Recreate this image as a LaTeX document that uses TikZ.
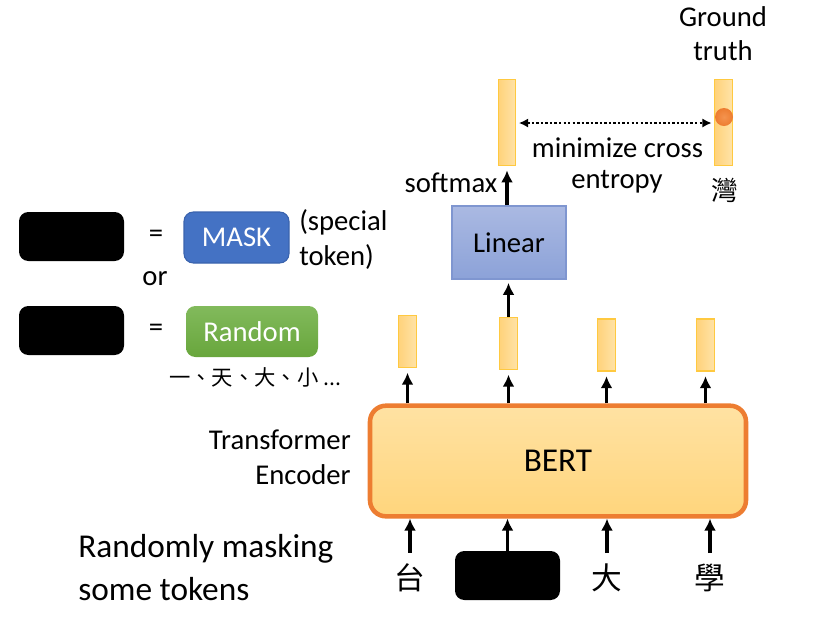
\documentclass[tikz,border=0pt]{standalone}
\usepackage{fontspec}
\setmainfont{Carlito}
\newfontfamily\cjk{Noto Sans CJK TC}
\usetikzlibrary{arrows.meta}

\definecolor{bertline}{HTML}{ED7D31}
\definecolor{berttop}{HTML}{FFE2A3}
\definecolor{bertbot}{HTML}{FFD57C}
\definecolor{barleft}{HTML}{FFD27A}
\definecolor{barright}{HTML}{FFE3A8}
\definecolor{barline}{HTML}{FFC940}
\definecolor{lintop}{HTML}{AAB9E2}
\definecolor{linbot}{HTML}{8CA2D8}
\definecolor{linline}{HTML}{7F96D0}
\definecolor{maskfill}{HTML}{4472C4}
\definecolor{maskline}{HTML}{3A63AD}
\definecolor{randtop}{HTML}{82BA5C}
\definecolor{randbot}{HTML}{68A63C}
\definecolor{dotlight}{HTML}{F4934E}

\begin{document}
\begin{tikzpicture}[x=0.75pt,y=-0.75pt,
  txt/.style={font=\fontsize{21.5}{25}\selectfont, inner sep=0pt},
  tok/.style={font=\cjk\fontsize{23}{27}\selectfont, inner sep=0pt},
  arr/.style={-{Latex[length=9pt,width=9pt]}, line width=2.4pt},
  vec/.style={draw=barline, line width=0.8pt, left color=barleft, right color=barright,
    minimum width=14pt, minimum height=39pt, inner sep=0pt},
  hidden/.style={fill=black, rounded corners=7pt, minimum width=78.75pt,
    minimum height=36.75pt, inner sep=0pt}]
\useasboundingbox (0,0) rectangle (813,619);

% encoder
\node[draw=bertline, line width=3.4pt, rounded corners=12pt, top color=berttop,
  bottom color=bertbot, minimum width=282pt, minimum height=83pt,
  font=\fontsize{25}{30}\selectfont] (bert) at (558,461) {BERT};
\node[txt, anchor=east] (tr) at (351,440) {Transformer};
\node[txt, anchor=east] (enc) at (351,475) {Encoder};

% output vectors
\node[vec] (bar1) at (407.5,341.5) {};
\node[vec] (bar2) at (508.5,343.5) {};
\node[vec] (bar3) at (606.5,345) {};
\node[vec] (bar4) at (705.5,345) {};
\foreach \i in {1,...,4}
  \draw[arr, shorten >=3.5pt] (bar\i |- bert.north) -- (bar\i.south);

% input tokens
\node[tok] (tok1) at (410,578) {台};
\node[hidden] (tok2) at (507.5,575.5) {};
\node[tok] (tok3) at (607,578) {大};
\node[tok] (tok4) at (710,578) {學};
\draw[arr, shorten <=8pt] (tok1.north) -- (tok1.north |- bert.south);
\draw[arr] (tok2.north) -- (tok2.north |- bert.south);
\draw[arr, shorten <=8pt] (tok3.north) -- (tok3.north |- bert.south);
\draw[arr, shorten <=8pt] (tok4.north) -- (tok4.north |- bert.south);

% linear + softmax
\node[draw=linline, line width=0.8pt, top color=lintop, bottom color=linbot,
  minimum width=85.5pt, minimum height=54.75pt, txt, inner sep=0pt] (linear) at (509,242.5) {Linear};
\draw[arr, shorten >=2.5pt] (bar2.north) -- (bar2.north |- linear.south);
\node[vec, minimum width=13pt, minimum height=65pt] (probs) at (507,122.5) {};
\draw[arr, shorten >=3pt] (linear.north -| probs) -- (probs.south);
\node[txt] (softmax) at (451,183) {softmax};

% ground truth
\node[vec, minimum width=13pt, minimum height=65pt] (truth) at (723.5,122.5) {};
\shade[inner color=dotlight, outer color=bertline] (724,117) circle (6.75pt);
\node[txt] (gt1) at (723,17) {Ground};
\node[txt] (gt2) at (723,51) {truth};
\node[tok, font=\cjk\fontsize{20}{24}\selectfont] (wan) at (725,190) {灣};
\coordinate (ce1) at (probs.east |- 0,123);
\coordinate (ce2) at (truth.west |- 0,123);
\draw[{Latex[length=7pt,width=7pt]}-{Latex[length=7pt,width=7pt]}, line width=2pt,
  dash pattern=on 1.8pt off 1.6pt, shorten <=2pt, shorten >=2pt] (ce1) -- (ce2);
\node[txt] (min1) at (617.5,148) {minimize cross};
\node[txt] (min2) at (617,182) {entropy};

% legend
\node[hidden] (h1) at (71.5,236.5) {};
\node[txt] (eq1) at (156,236) {=};
\node[fill=maskfill, draw=maskline, line width=0.8pt, rounded corners=7pt,
  minimum width=78.75pt, minimum height=38.25pt, txt, text=white] (mask) at (236.5,237.5) {MASK};
\node[txt, anchor=west] (sp1) at (299,222) {(special};
\node[txt, anchor=west] (sp2) at (299,257) {token)};
\node[txt] (or) at (155,279) {or};
\node[hidden] (h2) at (71.5,330.5) {};
\node[txt] (eq2) at (156,330) {=};
\node[top color=randtop, bottom color=randbot, rounded corners=7pt,
  minimum width=99pt, minimum height=38.25pt, txt, text=white] (rand) at (252,331.5) {Random};
\node[font=\cjk\fontsize{16}{19}\selectfont, inner sep=0pt] (cands) at (255,377) {一、天、大、小 ...};

% caption
\node[font=\fontsize{25}{30}\selectfont, inner sep=0pt, anchor=west] (cap1) at (78,549) {Randomly masking};
\node[font=\fontsize{25}{30}\selectfont, inner sep=0pt, anchor=west] (cap2) at (78,589) {some tokens};
\end{tikzpicture}
\end{document}
